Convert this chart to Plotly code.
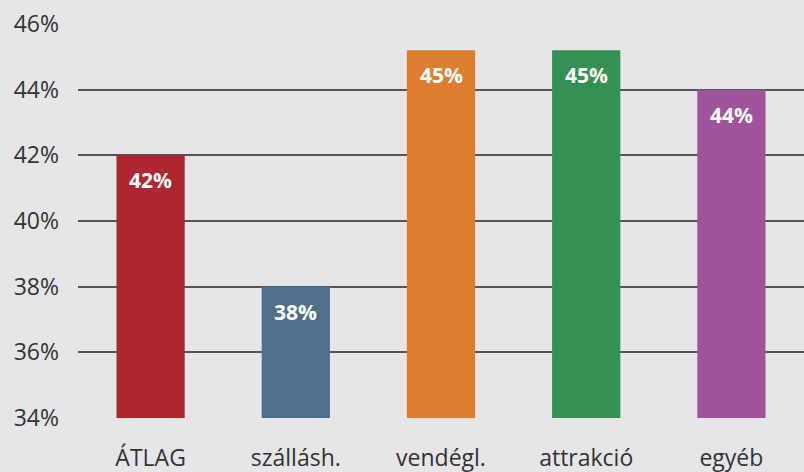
import plotly.graph_objects as go

categories = ["ÁTLAG", "szállásh.", "vendégl.", "attrakció", "egyéb"]
values = [42.0, 38.0, 45.2, 45.2, 44.0]
colors = ["#ae2730", "#4d6f8c", "#dd7e2e", "#368f53", "#9f539b"]
tick_vals = [34, 36, 38, 40, 42, 44, 46]

fig = go.Figure()
fig.add_trace(go.Bar(
    x=categories, y=values, marker=dict(color=colors, line=dict(width=0)),
    hoverinfo="skip",
))
for c, v in zip(categories, values):
    fig.add_annotation(x=c, y=v, text=f"{v:.0f}%", showarrow=False,
                       yanchor="top", yshift=-9,
                       font=dict(family="Liberation Sans Narrow, Open Sans", size=21, color="white", weight="bold"))

fig.update_layout(
    width=804, height=472,
    margin=dict(l=78, r=0, t=24, b=54, autoexpand=False),
    paper_bgcolor="#e6e6e8", plot_bgcolor="#e6e6e8",
    bargap=0.53, showlegend=False,
    font=dict(family="Open Sans, DejaVu Sans", color="#333333"),
)
fig.update_yaxes(range=[34, 46], tickvals=tick_vals, ticktext=[f"{t}%" for t in tick_vals],
                 showgrid=True, gridcolor="#555555", gridwidth=1.5, zeroline=False, automargin=False,
                 tickfont=dict(size=23, color="#333333"), ticklabelstandoff=18, showline=False)
fig.update_xaxes(showgrid=False, tickfont=dict(size=23, color="#333333"), ticklabelstandoff=24,
                 showline=False, automargin=False)
fig.write_html("out.html", config={"displayModeBar": False},
               post_script="document.body.style.margin='0';document.body.style.overflow='hidden';")
